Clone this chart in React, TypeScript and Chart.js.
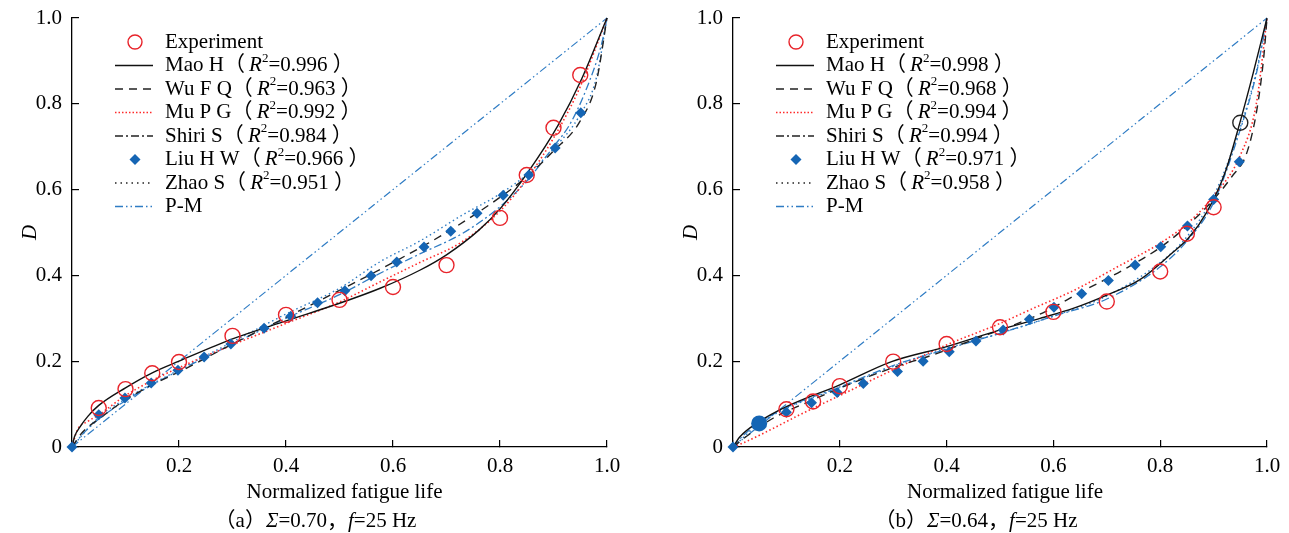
import React, { useEffect, useRef } from "react";
import { Chart, registerables } from "chart.js";
Chart.register(...registerables);

// ---------- Panel (a): Σ=0.70, f=25 Hz ----------
const expXA = [0.05, 0.1, 0.15, 0.2, 0.3, 0.4, 0.5, 0.6, 0.7, 0.8, 0.85, 0.9, 0.95];
const expYA = [0.091, 0.135, 0.172, 0.198, 0.259, 0.308, 0.343, 0.373, 0.424, 0.534, 0.634, 0.744, 0.867];

const maoXA = [0, 0.005, 0.015, 0.03, 0.05, 0.1, 0.15, 0.2, 0.3, 0.4, 0.5, 0.576, 0.65, 0.7, 0.76, 0.8, 0.853, 0.909, 0.953, 1];
const maoYA = [0, 0.025, 0.047, 0.072, 0.097, 0.138, 0.173, 0.2, 0.252, 0.294, 0.335, 0.37, 0.412, 0.448, 0.505, 0.555, 0.642, 0.751, 0.859, 1];

const wuXA = [0, 0.02, 0.05, 0.1, 0.15, 0.2, 0.3, 0.4, 0.5, 0.6, 0.7, 0.8, 0.85, 0.9, 0.95, 0.98, 1];
const wuYA = [0, 0.035, 0.065, 0.11, 0.145, 0.175, 0.24, 0.302, 0.365, 0.43, 0.5, 0.582, 0.63, 0.69, 0.76, 0.85, 1];

const muXA = [0, 0.01, 0.03, 0.05, 0.1, 0.15, 0.2, 0.3, 0.4, 0.5, 0.576, 0.65, 0.73, 0.8, 0.85, 0.9, 0.95, 1];
const muYA = [0, 0.04, 0.06, 0.075, 0.12, 0.155, 0.185, 0.238, 0.288, 0.338, 0.385, 0.43, 0.479, 0.55, 0.625, 0.72, 0.84, 1];

const shiriXA = [0, 0.02, 0.05, 0.1, 0.15, 0.2, 0.3, 0.4, 0.5, 0.576, 0.65, 0.73, 0.8, 0.85, 0.9, 0.93, 0.96, 0.99, 1];
const shiriYA = [0, 0.03, 0.065, 0.108, 0.145, 0.178, 0.24, 0.3, 0.355, 0.405, 0.45, 0.498, 0.56, 0.62, 0.7, 0.751, 0.83, 0.94, 1];

const liuXA = [0, 0.05, 0.099, 0.148, 0.198, 0.247, 0.297, 0.359, 0.409, 0.459, 0.51, 0.559, 0.607, 0.658, 0.708, 0.757, 0.806, 0.854, 0.903, 0.951];
const liuYA = [0, 0.075, 0.114, 0.149, 0.179, 0.21, 0.24, 0.277, 0.305, 0.336, 0.364, 0.399, 0.431, 0.466, 0.503, 0.545, 0.587, 0.634, 0.697, 0.779];

const zhaoXA = [0, 0.05, 0.1, 0.2, 0.3, 0.4, 0.5, 0.576, 0.65, 0.73, 0.8, 0.85, 0.9, 0.95, 0.98, 1];
const zhaoYA = [0, 0.07, 0.112, 0.18, 0.245, 0.31, 0.37, 0.432, 0.48, 0.541, 0.59, 0.635, 0.695, 0.775, 0.86, 1];

const pmXA = [0, 1];
const pmYA = [0, 1];

const r2A = ["0.996", "0.963", "0.992", "0.984", "0.966", "0.951"];

// ---------- Panel (b): Σ=0.64, f=25 Hz ----------
const expXB = [0.1, 0.15, 0.2, 0.3, 0.4, 0.5, 0.6, 0.7, 0.8, 0.85, 0.9, 0.95];
const expYB = [0.088, 0.106, 0.142, 0.199, 0.24, 0.279, 0.315, 0.339, 0.409, 0.497, 0.559, 0.756];
const expColorB = ["r", "r", "r", "r", "r", "r", "r", "r", "r", "r", "r", "k"];

const dotXB = [0.049];
const dotYB = [0.055];

const maoXB = [0, 0.013, 0.049, 0.1, 0.2, 0.297, 0.4, 0.5, 0.575, 0.637, 0.7, 0.762, 0.825, 0.853, 0.887, 0.921, 0.949, 0.974, 1];
const maoYB = [0, 0.024, 0.059, 0.094, 0.145, 0.199, 0.234, 0.273, 0.3, 0.323, 0.354, 0.39, 0.455, 0.487, 0.547, 0.638, 0.755, 0.871, 1];

const wuXB = [0, 0.02, 0.075, 0.15, 0.225, 0.3, 0.375, 0.45, 0.525, 0.584, 0.65, 0.731, 0.8, 0.85, 0.9, 0.934, 0.962, 0.981, 0.994, 1];
const wuYB = [0, 0.02, 0.067, 0.11, 0.15, 0.185, 0.215, 0.25, 0.284, 0.315, 0.36, 0.413, 0.465, 0.515, 0.577, 0.63, 0.685, 0.786, 0.91, 1];

const muXB = [0, 0.02, 0.07, 0.12, 0.2, 0.3, 0.4, 0.5, 0.56, 0.64, 0.72, 0.8, 0.85, 0.9, 0.95, 0.98, 1];
const muYB = [0, 0.01, 0.04, 0.072, 0.12, 0.18, 0.238, 0.288, 0.322, 0.366, 0.42, 0.475, 0.52, 0.585, 0.68, 0.8, 1];

const shiriXB = [0, 0.02, 0.05, 0.1, 0.2, 0.3, 0.4, 0.5, 0.6, 0.7, 0.8, 0.85, 0.9, 0.95, 0.98, 1];
const shiriYB = [0, 0.028, 0.058, 0.092, 0.14, 0.19, 0.228, 0.265, 0.305, 0.345, 0.42, 0.48, 0.57, 0.74, 0.87, 1];

const liuXB = [0, 0.1, 0.147, 0.195, 0.244, 0.308, 0.356, 0.405, 0.455, 0.506, 0.555, 0.601, 0.653, 0.703, 0.753, 0.801, 0.851, 0.9, 0.948];
const liuYB = [0, 0.081, 0.103, 0.127, 0.148, 0.176, 0.2, 0.222, 0.247, 0.273, 0.298, 0.326, 0.357, 0.388, 0.424, 0.467, 0.515, 0.577, 0.665];

const zhaoXB = [0, 0.05, 0.1, 0.2, 0.3, 0.4, 0.5, 0.6, 0.7, 0.8, 0.85, 0.9, 0.95, 0.98, 1];
const zhaoYB = [0, 0.055, 0.09, 0.138, 0.188, 0.23, 0.265, 0.305, 0.352, 0.43, 0.49, 0.585, 0.745, 0.875, 1];

const pmXB = [0, 1];
const pmYB = [0, 1];

const r2B = ["0.998", "0.968", "0.994", "0.994", "0.971", "0.958"];

const legendNames = ["Mao H", "Wu F Q", "Mu P G", "Shiri S", "Liu H W", "Zhao S"];
const yTicks = [0, 0.2, 0.4, 0.6, 0.8, 1.0];

// ---------- styling ----------
const FAM = '"Liberation Serif", "Noto Sans CJK SC", serif';
const RED = "#e8232a";
const BLUE = "#1565b4";
const LBLUE = "#2f7cc4";
const W = 644;
const H = 533;
const FS = 21;

type Seg = { t: string; it?: boolean; sup?: boolean };

function fontFor(size: number, it?: boolean) {
  return `${it ? "italic " : ""}${size}px ${FAM}`;
}
function segsWidth(ctx: CanvasRenderingContext2D, segs: Seg[], size: number) {
  let w = 0;
  for (const s of segs) {
    ctx.font = fontFor(s.sup ? size * 0.62 : size, s.it);
    w += ctx.measureText(s.t).width;
  }
  return w;
}
function drawSegs(ctx: CanvasRenderingContext2D, segs: Seg[], x: number, y: number, size: number) {
  let cx = x;
  for (const s of segs) {
    const fs = s.sup ? size * 0.62 : size;
    ctx.font = fontFor(fs, s.it);
    ctx.fillText(s.t, cx, s.sup ? y - size * 0.33 : y);
    cx += ctx.measureText(s.t).width;
  }
}

const pts = (xs: number[], ys: number[]) => xs.map((x, i) => ({ x, y: ys[i] }));

function lineDs(label: string, xs: number[], ys: number[], color: string, dash: number[], width = 1.4) {
  return {
    label,
    data: pts(xs, ys),
    borderColor: color,
    backgroundColor: color,
    borderDash: dash,
    borderWidth: width,
    pointRadius: 0,
    fill: false,
    tension: 0.4,
    cubicInterpolationMode: "monotone",
    clip: false,
    order: 2,
  };
}

type Spec = {
  areaLeft: number;
  areaRight: number;
  exp: { xs: number[]; ys: number[]; colors?: string[] };
  dot?: { xs: number[]; ys: number[] };
  mao: [number[], number[]];
  wu: [number[], number[]];
  mu: [number[], number[]];
  shiri: [number[], number[]];
  liu: [number[], number[]];
  zhao: [number[], number[]];
  pm: [number[], number[]];
  r2: string[];
  caption: Seg[];
};

function buildConfig(spec: Spec): any {
  const datasets: any[] = [
    {
      label: "Experiment",
      data: pts(spec.exp.xs, spec.exp.ys),
      showLine: false,
      pointStyle: "circle",
      pointRadius: 7.5,
      pointBorderWidth: 1.4,
      pointBorderColor: spec.exp.colors ? spec.exp.colors.map((c) => (c === "k" ? "#222" : RED)) : RED,
      pointBackgroundColor: "rgba(0,0,0,0)",
      clip: false,
      order: 0,
    },
    {
      label: "Liu H W",
      data: pts(spec.liu[0], spec.liu[1]),
      showLine: false,
      pointStyle: "rectRot",
      pointRadius: 5.5,
      pointBorderWidth: 0,
      pointBackgroundColor: BLUE,
      pointBorderColor: BLUE,
      clip: false,
      order: 0,
    },
    lineDs("Mao H", spec.mao[0], spec.mao[1], "#111", [], 1.4),
    lineDs("Wu F Q", spec.wu[0], spec.wu[1], "#222", [8, 6], 1.4),
    lineDs("Mu P G", spec.mu[0], spec.mu[1], "#ff2a2a", [1.5, 2.5], 1.6),
    lineDs("Shiri S", spec.shiri[0], spec.shiri[1], LBLUE, [8, 3, 2, 3], 1.3),
    lineDs("Zhao S", spec.zhao[0], spec.zhao[1], LBLUE, [1.5, 3], 1.4),
    lineDs("P-M", spec.pm[0], spec.pm[1], LBLUE, [8, 3, 1.5, 3, 1.5, 3], 1.2),
  ];
  if (spec.dot) {
    datasets.push({
      label: "dot",
      data: pts(spec.dot.xs, spec.dot.ys),
      showLine: false,
      pointStyle: "circle",
      pointRadius: 8,
      pointBorderWidth: 0,
      pointBackgroundColor: BLUE,
      pointBorderColor: BLUE,
      clip: false,
      order: 0,
    });
  }

  const extras = {
    id: "extras",
    afterDraw(chart: any) {
      const { ctx, chartArea: a } = chart;
      ctx.save();
      ctx.fillStyle = "#000";
      ctx.textBaseline = "middle";
      // y-axis title
      ctx.save();
      ctx.translate(a.left - 42, (a.top + a.bottom) / 2);
      ctx.rotate(-Math.PI / 2);
      ctx.textAlign = "center";
      ctx.font = fontFor(FS, true);
      ctx.fillText("D", 0, 0);
      ctx.restore();
      // x-axis title
      ctx.textAlign = "center";
      ctx.font = fontFor(FS);
      ctx.fillText("Normalized fatigue life", (a.left + a.right) / 2 + 5, 492);
      // caption
      ctx.textAlign = "left";
      const cw = segsWidth(ctx, spec.caption, FS);
      drawSegs(ctx, spec.caption, (a.left + a.right) / 2 - 24 - cw / 2, 521, FS);
      // legend
      const sx1 = a.left + 43;
      const sx2 = a.left + 81;
      const mx = (sx1 + sx2) / 2 + 1;
      const tx = a.left + 93;
      const rowY = (i: number) => 42 + i * 23.5;
      const samples: any[] = [
        { kind: "circle" },
        { kind: "line", color: "#111", dash: [] },
        { kind: "line", color: "#222", dash: [8, 6] },
        { kind: "line", color: "#ff2a2a", dash: [1.5, 2] },
        { kind: "line", color: "#222", dash: [8, 3, 2, 3] },
        { kind: "diamond" },
        { kind: "line", color: "#222", dash: [1.5, 4] },
        { kind: "line", color: LBLUE, dash: [8, 3, 1.5, 3, 1.5, 3] },
      ];
      samples.forEach((s, i) => {
        const y = rowY(i);
        ctx.save();
        if (s.kind === "circle") {
          ctx.strokeStyle = RED;
          ctx.lineWidth = 1.4;
          ctx.beginPath();
          ctx.arc(mx, y, 7, 0, Math.PI * 2);
          ctx.stroke();
        } else if (s.kind === "diamond") {
          ctx.fillStyle = BLUE;
          ctx.beginPath();
          ctx.moveTo(mx, y - 5.5);
          ctx.lineTo(mx + 5.5, y);
          ctx.lineTo(mx, y + 5.5);
          ctx.lineTo(mx - 5.5, y);
          ctx.closePath();
          ctx.fill();
        } else {
          ctx.strokeStyle = s.color;
          ctx.lineWidth = 1.4;
          ctx.setLineDash(s.dash);
          ctx.beginPath();
          ctx.moveTo(sx1, y);
          ctx.lineTo(sx2, y);
          ctx.stroke();
        }
        ctx.restore();
      });
      ctx.fillStyle = "#000";
      ctx.textAlign = "left";
      const rows: Seg[][] = [[{ t: "Experiment" }]];
      legendNames.forEach((n, i) => {
        rows.push([{ t: n + "（\u2009" }, { t: "R", it: true }, { t: "2", sup: true }, { t: "=" + spec.r2[i] + " ）" }]);
      });
      rows.push([{ t: "P-M" }]);
      rows.forEach((r, i) => drawSegs(ctx, r, tx, rowY(i), FS));
      ctx.restore();
    },
  };

  const tickFont = { family: FAM, size: FS };
  return {
    type: "line",
    data: { datasets },
    options: {
      animation: false,
      responsive: false,
      maintainAspectRatio: false,
      events: [],
      layout: { padding: { left: 0, top: 18, right: W - spec.areaRight, bottom: 0 } },
      plugins: { legend: { display: false }, tooltip: { enabled: false } },
      scales: {
        x: {
          type: "linear",
          min: 0,
          max: 1,
          afterFit: (s: any) => {
            s.height = H - 447;
            s.paddingLeft = 0;
            s.paddingRight = 0;
          },
          ticks: {
            stepSize: 0.2,
            color: "#000",
            font: tickFont,
            padding: 14,
            maxRotation: 0,
            callback: (v: number) => (Math.abs(v) < 1e-9 ? "" : v.toFixed(1)),
          },
          grid: { display: true, drawOnChartArea: false, drawTicks: true, tickLength: -7, color: "#000", lineWidth: 1.2 },
          border: { display: true, color: "#000", width: 1.3 },
        },
        y: {
          type: "linear",
          min: 0,
          max: 1,
          afterFit: (s: any) => {
            s.width = spec.areaLeft;
            s.paddingTop = 0;
            s.paddingBottom = 0;
          },
          afterBuildTicks: (s: any) => {
            s.ticks = yTicks.map((v) => ({ value: v }));
          },
          ticks: {
            color: "#000",
            font: tickFont,
            padding: 17,
            callback: (v: number) => (Math.abs(v) < 1e-9 ? "0" : v.toFixed(1)),
          },
          grid: { display: true, drawOnChartArea: false, drawTicks: true, tickLength: -7, color: "#000", lineWidth: 1.2 },
          border: { display: true, color: "#000", width: 1.3 },
        },
      },
    },
    plugins: [extras],
  };
}

const specA: Spec = {
  areaLeft: 72,
  areaRight: 607,
  exp: { xs: expXA, ys: expYA },
  mao: [maoXA, maoYA],
  wu: [wuXA, wuYA],
  mu: [muXA, muYA],
  shiri: [shiriXA, shiriYA],
  liu: [liuXA, liuYA],
  zhao: [zhaoXA, zhaoYA],
  pm: [pmXA, pmYA],
  r2: r2A,
  caption: [{ t: "（a）" }, { t: "Σ", it: true }, { t: "=0.70，" }, { t: "f", it: true }, { t: "=25 Hz" }],
};

const specB: Spec = {
  areaLeft: 733 - W,
  areaRight: 1267 - W,
  exp: { xs: expXB, ys: expYB, colors: expColorB },
  dot: { xs: dotXB, ys: dotYB },
  mao: [maoXB, maoYB],
  wu: [wuXB, wuYB],
  mu: [muXB, muYB],
  shiri: [shiriXB, shiriYB],
  liu: [liuXB, liuYB],
  zhao: [zhaoXB, zhaoYB],
  pm: [pmXB, pmYB],
  r2: r2B,
  caption: [{ t: "（b）" }, { t: "Σ", it: true }, { t: "=0.64，" }, { t: "f", it: true }, { t: "=25 Hz" }],
};

export default function App() {
  const refA = useRef<HTMLCanvasElement | null>(null);
  const refB = useRef<HTMLCanvasElement | null>(null);
  useEffect(() => {
    const ca = new Chart(refA.current as HTMLCanvasElement, buildConfig(specA));
    const cb = new Chart(refB.current as HTMLCanvasElement, buildConfig(specB));
    return () => {
      ca.destroy();
      cb.destroy();
    };
  }, []);
  return (
    <div style={{ position: "absolute", left: 0, top: 0, width: 1289, height: H, background: "#fff" }}>
      <canvas ref={refA} width={W} height={H} style={{ position: "absolute", left: 0, top: 0, width: W, height: H }} />
      <canvas ref={refB} width={W} height={H} style={{ position: "absolute", left: W, top: 0, width: W, height: H }} />
    </div>
  );
}
